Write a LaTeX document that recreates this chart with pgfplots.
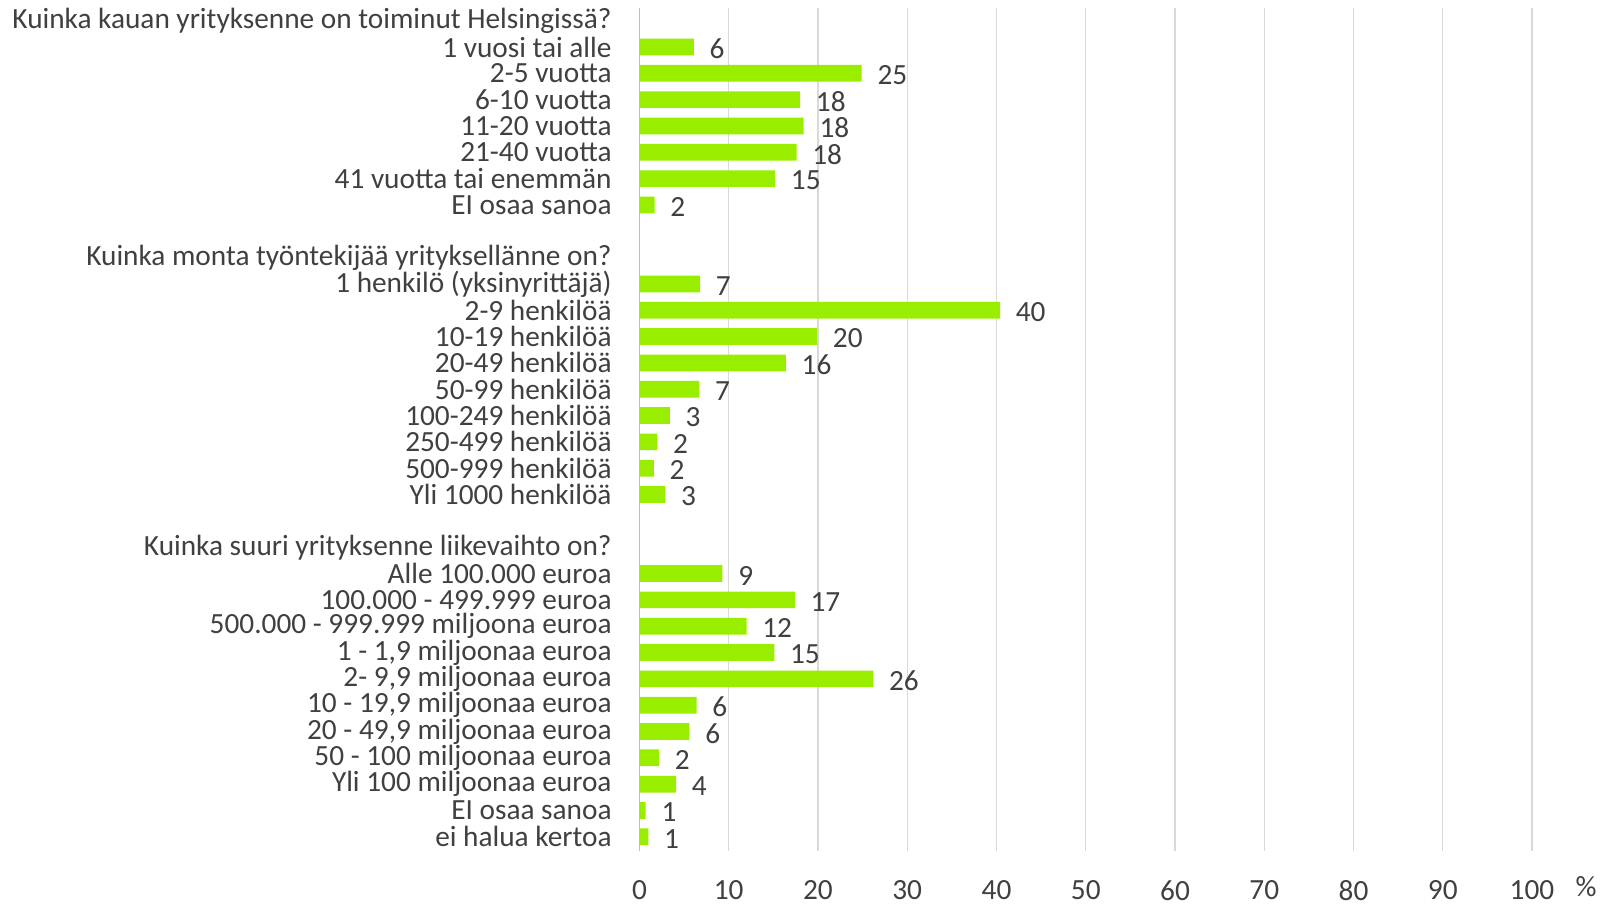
\documentclass[border=0pt]{standalone}
\usepackage{fontspec}
\setmainfont{Carlito}
\usepackage{pgfplots}
\pgfplotsset{compat=1.18}
\definecolor{barg}{HTML}{99EE00}
\definecolor{txt}{HTML}{404040}
\definecolor{grd}{HTML}{D9D9D9}
\definecolor{zero}{HTML}{BFBFBF}
\newcommand{\cf}{\fontsize{14.65}{16}\selectfont}

\begin{document}
\begin{tikzpicture}
\useasboundingbox (-319.75pt,-27.25pt) rectangle (486.25pt,425.25pt);
\begin{axis}[
  at={(0,0)}, anchor=south west,
  width=446.25pt, height=421.25pt, scale only axis,
  xbar, bar width=8.35pt, bar shift=0pt,
  y dir=reverse, ymin=-0.48, ymax=31.52,
  xmin=0, xmax=100, xtick={0,10,...,100},
  ytick={0,...,31},
  yticklabels={
    Kuinka kauan yrityksenne on toiminut Helsingissä?,
    1 vuosi tai alle, 2-5 vuotta, 6-10 vuotta, 11-20 vuotta, 21-40 vuotta,
    41 vuotta tai enemmän, EI osaa sanoa, {},
    Kuinka monta työntekijää yrityksellänne on?,
    1 henkilö (yksinyrittäjä), 2-9 henkilöä, 10-19 henkilöä, 20-49 henkilöä,
    50-99 henkilöä, 100-249 henkilöä, 250-499 henkilöä, 500-999 henkilöä,
    Yli 1000 henkilöä, {},
    Kuinka suuri yrityksenne liikevaihto on?,
    Alle 100.000 euroa, 100.000 - 499.999 euroa,
    500.000 - 999.999 miljoona euroa, {1 - 1,9 miljoonaa euroa},
    {2- 9,9 miljoonaa euroa}, {10 - 19,9 miljoonaa euroa},
    {20 - 49,9 miljoonaa euroa}, 50 - 100 miljoonaa euroa,
    Yli 100 miljoonaa euroa, EI osaa sanoa, ei halua kertoa},
  y tick label style={anchor=east, inner sep=0pt, xshift=-13.75pt, font=\cf, text=txt},
  x tick label style={anchor=north, inner sep=0pt, yshift=-14.8pt, font=\cf, text=txt},
  /pgf/number format/assume math mode=true,
  major tick length=0pt,
  axis line style={draw=none},
  xmajorgrids, grid style={draw=grd, line width=0.6pt},
  extra x ticks={0}, extra x tick labels={},
  extra x tick style={grid style={draw=zero, line width=0.8pt}},
  clip=false,
  nodes near coords, point meta=explicit symbolic,
  nodes near coords style={anchor=west, inner sep=0pt, xshift=7.7pt, yshift=-1pt, font=\cf, text=txt},
]
\addplot[fill=barg, draw=none] coordinates {
  (6.1,1) [6] (24.9,2) [25] (18.0,3) [18] (18.4,4) [18] (17.6,5) [18]
  (15.2,6) [15] (1.7,7) [2]
  (6.8,10) [7] (40.4,11) [40] (19.9,12) [20] (16.4,13) [16] (6.7,14) [7]
  (3.4,15) [3] (2.0,16) [2] (1.6,17) [2] (2.9,18) [3]
  (9.3,21) [9] (17.4,22) [17] (12.0,23) [12] (15.1,24) [15] (26.2,25) [26]
  (6.4,26) [6] (5.6,27) [6] (2.2,28) [2] (4.1,29) [4] (0.7,30) [1] (1.0,31) [1]
};
\node[font=\cf, text=txt, inner sep=0pt] at (rel axis cs:1,0) [xshift=27pt, yshift=-18pt] {\%};
\end{axis}
\end{tikzpicture}
\end{document}
